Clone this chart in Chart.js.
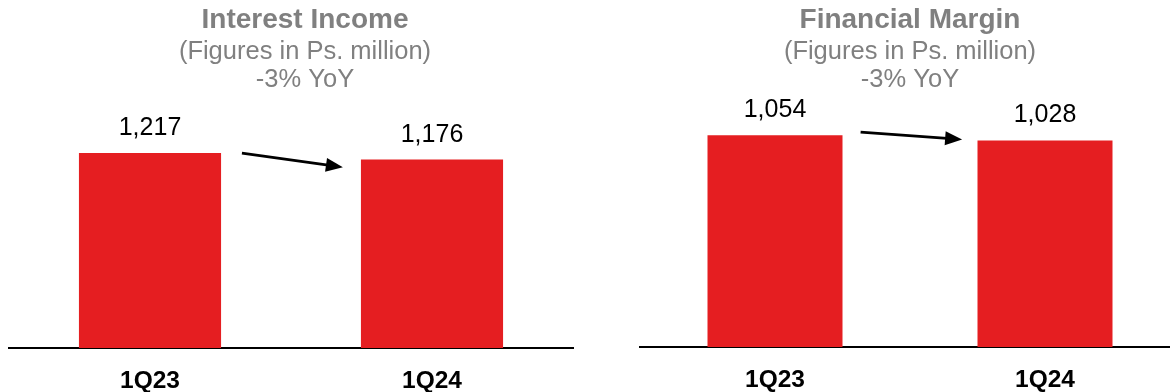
<!DOCTYPE html>
<html>
<head>
<meta charset="utf-8">
<script src="https://cdn.jsdelivr.net/npm/chart.js@4.4.1/dist/chart.umd.min.js"></script>
<style>
  html, body { margin: 0; padding: 0; width: 1170px; height: 392px; overflow: hidden; background: #fff; }
  canvas { position: absolute; top: 0; }
  #c1 { left: 0; }
  #c2 { left: 630px; }
</style>
</head>
<body>
<canvas id="c1" width="610" height="392"></canvas>
<canvas id="c2" width="560" height="392"></canvas>
<script>
// ---- data ----
const categories = ['1Q23', '1Q24'];
const interestIncome = [1217, 1176];
const financialMargin = [1054, 1028];
const titleLeft = 'Interest Income';
const titleRight = 'Financial Margin';
const subtitleLines = ['(Figures in Ps. million)', '-3% YoY'];
// arrow annotations in data space: [category index, value]
const arrowLeftFrom = [0.326, 1217];
const arrowLeftTo = [0.684, 1128];
const arrowRightFrom = [0.317, 1069];
const arrowRightTo = [0.693, 1032];
const yMaxLeft = 1537;
const yMaxRight = 1220;

const FONT = '"Liberation Sans", Arial, Helvetica, sans-serif';
const RED = '#E51E21';
const GREY = '#808080';

const barLabels = {
  id: 'barLabels',
  afterDatasetsDraw(chart) {
    const ctx = chart.ctx;
    const meta = chart.getDatasetMeta(0);
    const values = chart.data.datasets[0].data;
    ctx.save();
    ctx.font = '25px ' + FONT;
    ctx.fillStyle = '#000';
    ctx.textAlign = 'center';
    ctx.textBaseline = 'middle';
    meta.data.forEach((bar, i) => {
      ctx.fillText(values[i].toLocaleString('en-US'), bar.x, bar.y - 25);
    });
    ctx.restore();
  }
};

const arrowPlugin = {
  id: 'arrow',
  afterDatasetsDraw(chart, args, opts) {
    if (!opts || !opts.from) return;
    const xs = chart.scales.x, ys = chart.scales.y;
    const x1 = xs.getPixelForValue(opts.from[0]), y1 = ys.getPixelForValue(opts.from[1]);
    const x2 = xs.getPixelForValue(opts.to[0]), y2 = ys.getPixelForValue(opts.to[1]);
    const ang = Math.atan2(y2 - y1, x2 - x1);
    const headLen = 17, headHalf = 7;
    const bx = x2 - headLen * Math.cos(ang), by = y2 - headLen * Math.sin(ang);
    const ctx = chart.ctx;
    ctx.save();
    ctx.strokeStyle = '#000';
    ctx.fillStyle = '#000';
    ctx.lineWidth = 2.75;
    ctx.beginPath();
    ctx.moveTo(x1, y1);
    ctx.lineTo(bx + 2 * Math.cos(ang), by + 2 * Math.sin(ang));
    ctx.stroke();
    ctx.beginPath();
    ctx.moveTo(x2, y2);
    ctx.lineTo(bx + headHalf * Math.sin(ang), by - headHalf * Math.cos(ang));
    ctx.lineTo(bx - headHalf * Math.sin(ang), by + headHalf * Math.cos(ang));
    ctx.closePath();
    ctx.fill();
    ctx.restore();
  }
};

function makeChart(id, title, values, yMax, barPct, pad, yWidth, xHeight, arrowFrom, arrowTo) {
  return new Chart(document.getElementById(id), {
    type: 'bar',
    data: {
      labels: categories,
      datasets: [{
        data: values,
        backgroundColor: RED,
        borderWidth: 0,
        categoryPercentage: 1,
        barPercentage: barPct
      }]
    },
    options: {
      responsive: false,
      animation: false,
      events: [],
      layout: { padding: pad },
      plugins: {
        legend: { display: false },
        tooltip: { enabled: false },
        title: {
          display: true,
          text: title,
          color: GREY,
          font: { family: FONT, size: 28, weight: 'bold', lineHeight: 1.1 },
          padding: { top: 5, bottom: 2 }
        },
        subtitle: {
          display: true,
          text: subtitleLines,
          color: GREY,
          font: { family: FONT, size: 25.5, weight: 'normal', lineHeight: 1.098 },
          padding: { top: 0, bottom: 8 }
        },
        arrow: { from: arrowFrom, to: arrowTo }
      },
      scales: {
        x: {
          grid: { display: false, drawTicks: false },
          border: { display: true, color: '#000', width: 2 },
          ticks: {
            color: '#000',
            padding: 21,
            font: { family: FONT, size: 24.5, weight: 'bold', lineHeight: 1 }
          },
          afterFit(scale) { scale.height = xHeight; }
        },
        y: {
          position: 'right',
          min: 0,
          max: yMax,
          grid: { display: false, drawTicks: false },
          border: { display: false },
          ticks: { display: false },
          afterFit(scale) { scale.width = yWidth; }
        }
      }
    },
    plugins: [barLabels, arrowPlugin]
  });
}

makeChart('c1', titleLeft, interestIncome, yMaxLeft, 0.504,
  { left: 9, right: 9, top: 0, bottom: 0 }, 28, 44, arrowLeftFrom, arrowLeftTo);
makeChart('c2', titleRight, financialMargin, yMaxRight, 0.5,
  { left: 10, right: 10, top: 0, bottom: 0 }, 0, 45, arrowRightFrom, arrowRightTo);
</script>
</body>
</html>
